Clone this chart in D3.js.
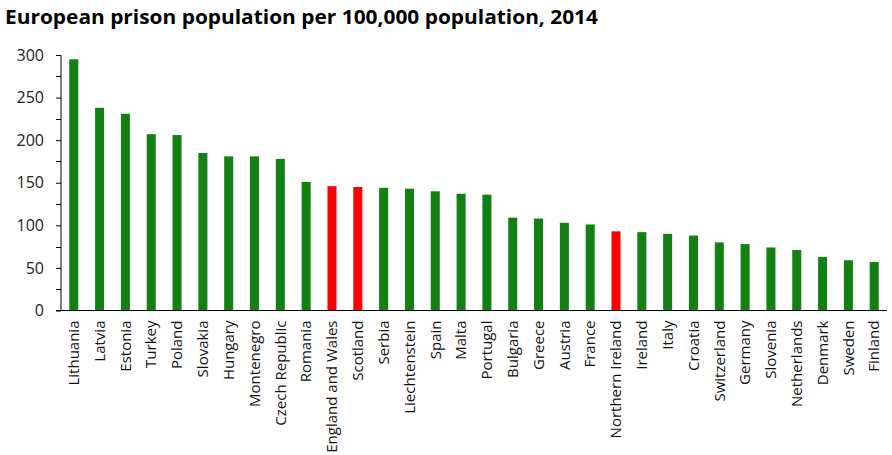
<!DOCTYPE html>
<html><head><meta charset="utf-8">
<script src="https://cdn.jsdelivr.net/npm/d3@7"></script>
<style>body{margin:0;background:#fff;} svg{display:block;}</style>
</head><body>
<svg id="c" width="892" height="455"></svg>
<script>
const categories = ["Lithuania","Latvia","Estonia","Turkey","Poland","Slovakia","Hungary","Montenegro","Czech Republic","Romania","England and Wales","Scotland","Serbia","Liechtenstein","Spain","Malta","Portugal","Bulgaria","Greece","Austria","France","Northern Ireland","Ireland","Italy","Croatia","Switzerland","Germany","Slovenia","Netherlands","Denmark","Sweden","Finland"];
const values = [295,238,231,207,206,185,181,181,178,151,146,145,144,143,140,137,136,109,108,103,101,93,92,90,88,80,78,74,71,63,59,57];
const highlighted = ["England and Wales","Scotland","Northern Ireland"];
const yTicks = [0,50,100,150,200,250,300];
const minorTicks = [25,75,125,175,225,275];
const title = "European prison population per 100,000 population, 2014";

const svg = d3.select("#c");
const font = "'Open Sans', 'Noto Sans', sans-serif";
const x0 = 61, x1 = 887, yTop = 55, yBot = 310.5;
const x = d3.scaleBand().domain(categories).range([x0, x1]).paddingInner(0.65).paddingOuter(0.32);
const y = d3.scaleLinear().domain([0,300]).range([yBot, yTop]);

svg.append("text").attr("x",5).attr("y",24).attr("font-family",font).attr("font-weight","bold")
  .attr("font-size",20).attr("fill","#000").attr("textLength",593).attr("lengthAdjust","spacingAndGlyphs").text(title);

svg.append("g").selectAll("rect").data(categories).join("rect")
  .attr("x", d=>x(d)).attr("width", x.bandwidth())
  .attr("y", (d,i)=>y(values[i])).attr("height",(d,i)=>y(0)-y(values[i]))
  .attr("fill", d=> highlighted.includes(d) ? "#ff0000" : "#138013");

// y axis
const ya = svg.append("g").attr("transform",`translate(${x0},0)`)
  .call(d3.axisLeft(y).tickValues(yTicks).tickSize(5).tickPadding(12).tickFormat(d3.format("d")));
ya.select(".domain").attr("stroke","#000").attr("d",`M0,${yTop}V${yBot}`);
ya.selectAll("text").attr("font-family",font).attr("font-size",16).attr("fill","#222");
ya.selectAll("line").attr("stroke","#000");
svg.append("g").attr("transform",`translate(${x0},0)`).selectAll("line").data(minorTicks).join("line")
  .attr("x1",-5).attr("x2",0).attr("y1",d=>Math.round(y(d))+0.5).attr("y2",d=>Math.round(y(d))+0.5).attr("stroke","#000");

// x axis
const xa = svg.append("g").attr("transform",`translate(0,${yBot})`)
  .call(d3.axisBottom(x).tickSize(0).tickPadding(0));
xa.select(".domain").attr("stroke","#000").attr("d",`M${x0-5},0H${x1}`);
xa.selectAll("text").attr("font-family",font).attr("font-size",15).attr("fill","#111")
  .attr("transform","rotate(-90)").attr("text-anchor","end").attr("x",-10).attr("y",0).attr("dy","0.35em");
</script>
</body></html>
